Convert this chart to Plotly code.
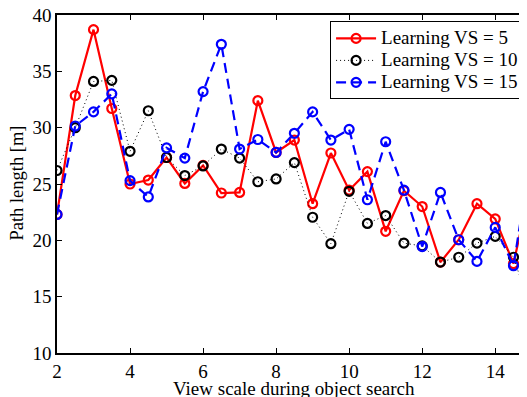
import plotly.graph_objects as go

view_scale = [2, 2.5, 3, 3.5, 4, 4.5, 5, 5.5, 6, 6.5, 7, 7.5, 8, 8.5, 9, 9.5,
              10, 10.5, 11, 11.5, 12, 12.5, 13, 13.5, 14, 14.5, 15]

vs5 = [22.3, 32.85, 38.7, 31.7, 25.0, 25.35, 27.35, 25.05, 26.65, 24.2, 24.25, 32.4,
       27.8, 28.9, 23.25, 27.75, 24.45, 26.1, 20.8, 24.4, 23.0, 18.07, 20.05, 23.25,
       21.9, 17.93, 25.3]
vs10 = [26.2, 30.0, 34.1, 34.2, 27.9, 31.5, 27.35, 25.75, 26.6, 28.1, 27.3, 25.2,
        25.45, 26.9, 22.05, 19.7, 24.35, 21.5, 22.2, 19.75, 19.5, 18.07, 18.5, 19.75,
        20.35, 18.5, 13.6]
vs15 = [22.3, 30.15, 31.4, 33.0, 25.3, 23.85, 28.2, 27.3, 33.2, 37.4, 28.1, 28.95,
        27.8, 29.5, 31.4, 28.9, 29.85, 23.6, 28.75, 24.45, 19.45, 24.25, 20.05, 18.13,
        21.15, 17.75, 28.0]

series_names = ["Learning VS = 5", "Learning VS = 10", "Learning VS = 15"]

font_family = "Liberation Serif, Times New Roman, serif"
FS = 19


def legend_label(s):
    return '<span style="font-size:19px">' + s + '</span>'


fig = go.Figure()
fig.add_trace(go.Scatter(
    x=view_scale, y=vs5, mode="lines+markers", name=legend_label(series_names[0]),
    line=dict(color="#ff0000", width=2.2),
    marker=dict(symbol="circle-open", size=9, color="#ff0000", line=dict(width=2.2)),
))
fig.add_trace(go.Scatter(
    x=view_scale, y=vs10, mode="lines+markers", name=legend_label(series_names[1]),
    line=dict(color="#000000", width=1, dash="1px,3px"),
    marker=dict(symbol="circle-open", size=9, color="#000000", line=dict(width=2.2)),
))
fig.add_trace(go.Scatter(
    x=view_scale, y=vs15, mode="lines+markers", name=legend_label(series_names[2]),
    line=dict(color="#0000ff", width=2.2, dash="10px,6px"),
    marker=dict(symbol="circle-open", size=9, color="#0000ff", line=dict(width=2.2)),
))

# the page body adds an 8px offset, so the figure margins are shifted by it
fig.update_layout(
    width=527, height=397,
    margin=dict(l=49, r=8, t=7, b=52, autoexpand=False),
    paper_bgcolor="white", plot_bgcolor="white",
    font=dict(family=font_family, size=FS, color="black"),
    showlegend=True,
    legend=dict(
        x=0.581, y=0.981, xanchor="left", yanchor="top",
        bordercolor="black", borderwidth=1, bgcolor="white",
        font=dict(family=font_family, size=14.6, color="black"),
        itemwidth=40, tracegroupgap=0,
    ),
    xaxis=dict(
        range=[2, 14.87], tickvals=[2, 4, 6, 8, 10, 12, 14],
        ticks="inside", ticklen=5, tickwidth=1, tickcolor="black",
        showline=True, linecolor="black", linewidth=1.5, mirror="ticks",
        showgrid=False, zeroline=False, automargin=False,
        ticklabeloverflow="allow",
        tickfont=dict(family=font_family, size=FS),
    ),
    yaxis=dict(
        range=[10, 40], tickvals=[10, 15, 20, 25, 30, 35, 40],
        ticks="inside", ticklen=5, tickwidth=1, tickcolor="black",
        showline=True, linecolor="black", linewidth=1.5, mirror=False,
        showgrid=False, zeroline=False, automargin=False,
        ticklabeloverflow="allow",
        tickfont=dict(family=font_family, size=FS),
    ),
    annotations=[
        dict(
            text="View scale during object search", x=0.504, y=-0.106,
            xref="paper", yref="paper", xanchor="center", yanchor="middle",
            showarrow=False, font=dict(family=font_family, size=FS, color="black"),
        ),
        dict(
            text="Path length [m]", x=-0.086, y=0.503, textangle=-90,
            xref="paper", yref="paper", xanchor="center", yanchor="middle",
            showarrow=False, font=dict(family=font_family, size=18.5, color="black"),
        ),
    ],
)

fig.write_html("out.html")
